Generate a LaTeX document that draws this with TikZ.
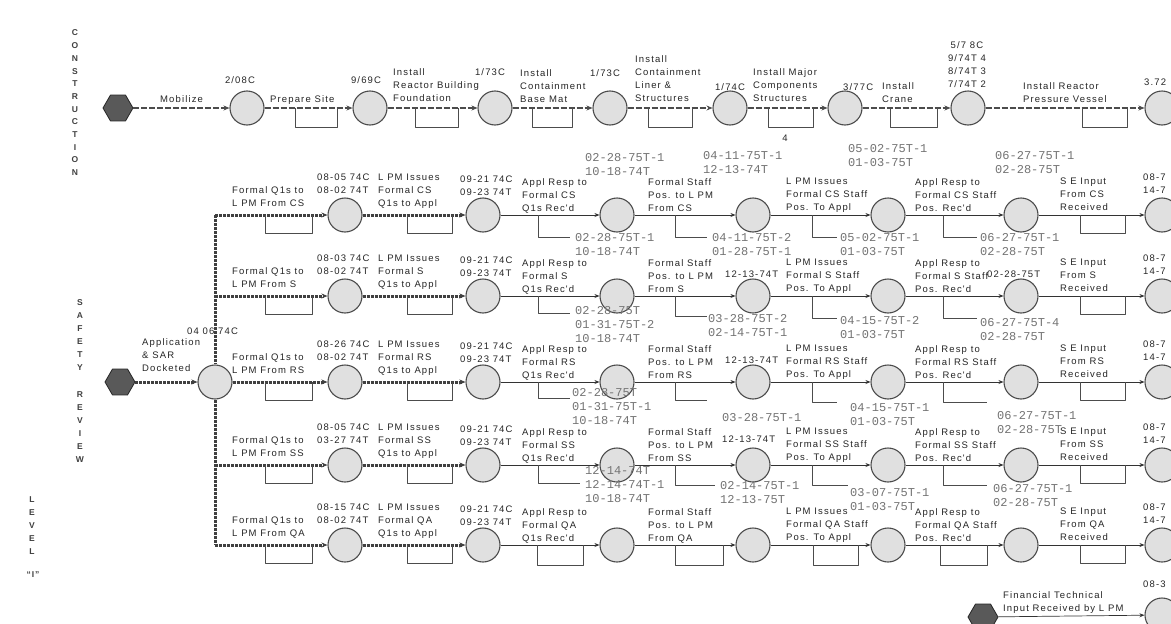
\documentclass[tikz,border=0pt]{standalone}
\usepackage{fontspec}
\setmainfont{Liberation Sans}
\newfontfamily\lblfont[LetterSpace=12]{Liberation Sans}
\newfontfamily\datefont{Liberation Mono}
\usetikzlibrary{shapes.geometric,arrows.meta}
\tikzset{
  evt/.style={circle, draw=black!70, fill=black!12, line width=1.1pt, minimum size=34pt, inner sep=0pt},
  strt/.style={regular polygon, regular polygon sides=6, draw=black!85, fill=black!65, line width=0.8pt, minimum size=30pt, inner sep=0pt},
  lbl/.style={anchor=north west, inner sep=0pt, align=left, text=black!85, font=\lblfont\fontsize{9.5}{13}\selectfont},
  dts/.style={anchor=north west, inner sep=0pt, align=left, text=black!55, font=\datefont\fontsize{12}{14}\selectfont},
  ltr/.style={inner sep=0pt, text=black!75, font=\lblfont\bfseries\fontsize{8.5}{9}\selectfont},
  hvy/.style={line width=3pt, draw=black!75, dash pattern=on 3pt off 1pt, -{Stealth[length=6pt,width=5pt]}},
  cpath/.style={line width=1.8pt, draw=black!70, dash pattern=on 6pt off 2pt, -{Stealth[length=6pt,width=5pt]}},
  lnk/.style={line width=0.7pt, draw=black!80, -{Stealth[length=5pt,width=4pt]}},
  brk/.style={line width=0.6pt, draw=black!70}
}
\begin{document}
\begin{tikzpicture}[x=1pt, y=-1pt, line join=round]
\clip (0,0) rectangle (1171,624);
\fill[white] (0,0) rectangle (1171,624);

% side titles
\foreach \l [count=\n from 0] in {C,O,N,S,T,R,U,C,T,I,O,N}
  \node[ltr] (con\n) at (75,33+12.7*\n) {\l};
\foreach \l [count=\n from 0] in {S,A,F,E,T,Y}
  \node[ltr] (saf\n) at (80,303+13*\n) {\l};
\foreach \l [count=\n from 0] in {R,E,V,I,E,W}
  \node[ltr] (rev\n) at (80,395+13*\n) {\l};
\foreach \l [count=\n from 0] in {L,E,V,E,L}
  \node[ltr] (lev\n) at (32,500+13*\n) {\l};
\node[ltr] (levI) at (33,575) {“I”};

% construction
\node[strt] (k0) at (118,108) {};
\foreach \i/\x in {1/247,2/370,3/495,4/610,5/730,6/845,7/968,8/1162}
  \node[evt] (k\i) at (\x,108) {};
\foreach \i [count=\j] in {0,...,7}
  \draw[cpath] (k\i) -- (k\j);
\foreach \a/\b in {295/337,415/458,532/572,648/692,768/813,890/937,1082/1127}
  \draw[brk] (\a,108) -- (\a,127) -- (\b,127) -- (\b,108);
\node[lbl] (ka1) at (160,95) {Mobilize};
\node[lbl] (ka2) at (270,95) {Prepare Site};
\node[lbl] (ka3) at (393,68) {Install\\Reactor Building\\Foundation};
\node[lbl] (ka4) at (520,69) {Install\\Containment\\Base Mat};
\node[lbl] (ka5) at (635,55) {Install\\Containment\\Liner \&\\Structures};
\node[lbl] (ka6) at (753,68) {Install Major\\Components\\Structures};
\node[lbl] (ka7) at (882,82) {Install\\Crane};
\node[lbl] (ka8) at (1023,82) {Install Reactor\\Pressure Vessel};
\node[lbl, anchor=center] (kd1) at (240,80) {2/08C};
\node[lbl, anchor=center] (kd2) at (366,80) {9/69C};
\node[lbl, anchor=center] (kd3) at (490,72) {1/73C};
\node[lbl, anchor=center] (kd4) at (605,73) {1/73C};
\node[lbl, anchor=center] (kd5) at (730,87) {1/74C};
\node[lbl, anchor=west] (kd6) at (843,87) {3/77C};
\node[lbl, anchor=north, align=center] (kd7) at (967,41) {5/7 8C\\9/74T 4\\8/74T 3\\7/74T 2};
\node[lbl, anchor=west] (kd8) at (1144,82) {3.72};
\node[lbl, anchor=center] (kmk) at (785,138) {4};

% safety review
\node[strt] (sr) at (120,382) {};
\node[evt] (c0) at (215,382) {};
\draw[hvy] (sr) -- (c0);
\node[lbl] (sra) at (142,338) {Application\\\& SAR\\Docketed};
\node[lbl] (srd) at (187,328) {04 06 74C};
\foreach \r/\y in {a/215,b/296,d/465,e/545}
  \coordinate (\r0) at (215,\y);
\draw[hvy, -] (a0) -- (c0);
\draw[hvy, -] (c0) -- (e0);

\foreach \r/\y/\sub/\dA/\dB in {a/215/CS/08-05 74C/08-02 74T, b/296/S/08-03 74C/08-02 74T,
    c/382/RS/08-26 74C/08-02 74T, d/465/SS/08-05 74C/03-27 74T, e/545/QA/08-15 74C/08-02 74T} {
  \foreach \i/\x in {1/345,2/483,3/617,4/753,5/888,6/1021,7/1162}
    \node[evt] (\r\i) at (\x,\y) {};
  \draw[hvy] (\r0) -- (\r1);
  \draw[hvy] (\r1) -- (\r2);
  \foreach \i [count=\j from 3] in {2,...,6}
    \draw[lnk] (\r\i) -- (\r\j);
  \foreach \a/\b in {265/312,407/452,1080/1125}
    \draw[brk] (\a,\y) -- (\a,\y+18) -- (\b,\y+18) -- (\b,\y);
  \node[lbl] (\r l1) at (232,\y-29) {Formal Q1s to\\L PM From \sub};
  \node[lbl] (\r d1) at (317,\y-41) {\dA\\\dB};
  \node[lbl] (\r l2) at (378,\y-41) {L PM Issues\\Formal \sub\\Q1s to Appl};
  \node[lbl] (\r d2) at (460,\y-39) {09-21 74C\\09-23 74T};
  \node[lbl] (\r l3) at (522,\y-37) {Appl Resp to\\Formal \sub\\Q1s Rec'd};
  \node[lbl] (\r l4) at (648,\y-37) {Formal Staff\\Pos. to L PM\\From \sub};
  \node[lbl] (\r l5) at (786,\y-37) {L PM Issues\\Formal \sub{} Staff\\Pos. To Appl};
  \node[lbl] (\r l6) at (915,\y-37) {Appl Resp to\\Formal \sub{} Staff\\Pos. Rec'd};
  \node[lbl] (\r l7) at (1060,\y-37) {S E Input\\From \sub\\Received};
  \node[lbl] (\r d7) at (1143,\y-41) {08-7\\14-7};
}

% row CS
\draw[brk] (538,215) |- (570,237);
\draw[brk] (675,215) |- (707,237);
\draw[brk] (812,215) |- (837,237);
\draw[brk] (943,215) |- (977,237);
\node[dts] (at3) at (585,153) {02-28-75T-1\\10-18-74T};
\node[dts] (at4) at (703,151) {04-11-75T-1\\12-13-74T};
\node[dts] (at5) at (848,144) {05-02-75T-1\\01-03-75T};
\node[dts] (at6) at (995,151) {06-27-75T-1\\02-28-75T};
\node[dts] (ab3) at (575,233) {02-28-75T-1\\10-18-74T};
\node[dts] (ab4) at (712,233) {04-11-75T-2\\01-28-75T-1};
\node[dts] (ab5) at (840,233) {05-02-75T-1\\01-03-75T};
\node[dts] (ab6) at (980,233) {06-27-75T-1\\02-28-75T};

% row S
\draw[brk] (538,296) |- (570,313);
\draw[brk] (675,296) |- (707,316);
\draw[brk] (812,296) |- (837,318);
\draw[brk] (943,296) |- (977,318);
\node[lbl] (bx4) at (725,271) {12-13-74T};
\node[lbl] (bx6) at (987,271) {02-28-75T};
\node[dts] (bb3) at (575,306) {02-28-75T\\01-31-75T-2\\10-18-74T};
\node[dts] (bb4) at (708,314) {03-28-75T-2\\02-14-75T-1};
\node[dts] (bb5) at (840,316) {04-15-75T-2\\01-03-75T};
\node[dts] (bb6) at (980,318) {06-27-75T-4\\02-28-75T};

% row RS
\draw[brk] (538,382) |- (570,398);
\draw[brk] (675,382) |- (707,400);
\draw[brk] (812,382) |- (837,402);
\draw[brk] (943,382) |- (987,402);
\node[lbl] (cx4) at (725,357) {12-13-74T};
\node[dts] (cb3) at (572,388) {02-28-75T\\01-31-75T-1\\10-18-74T};
\node[dts] (cb4) at (722,413) {03-28-75T-1};
\node[dts] (cb5) at (850,403) {04-15-75T-1\\01-03-75T};
\node[dts] (cb6) at (997,411) {06-27-75T-1\\02-28-75T};

% row SS
\draw[brk] (538,465) |- (580,483);
\draw[brk] (675,465) |- (715,485);
\draw[brk] (812,465) |- (848,485);
\draw[brk] (943,465) |- (987,485);
\node[lbl] (dx4) at (722,436) {12-13-74T};
\node[dts] (db3) at (585,466) {12-14-74T\\12-14-74T-1\\10-18-74T};
\node[dts] (db4) at (720,481) {02-14-75T-1\\12-13-75T};
\node[dts] (db5) at (850,488) {03-07-75T-1\\01-03-75T};
\node[dts] (db6) at (993,484) {06-27-75T-1\\02-28-75T};

% row QA
\foreach \a/\b in {537/583,675/723,813/858,940/987}
  \draw[brk] (\a,545) -- (\a,565) -- (\b,565) -- (\b,545);

% financial input
\node[strt] (f0) at (983,617) {};
\node[evt] (f1) at (1162,615) {};
\draw[lnk] (f0) -- (f1);
\node[lbl] (fl) at (1003,591) {Financial Technical\\Input Received by L PM};
\node[lbl] (fd) at (1143,581) {08-3};
\end{tikzpicture}
\end{document}
